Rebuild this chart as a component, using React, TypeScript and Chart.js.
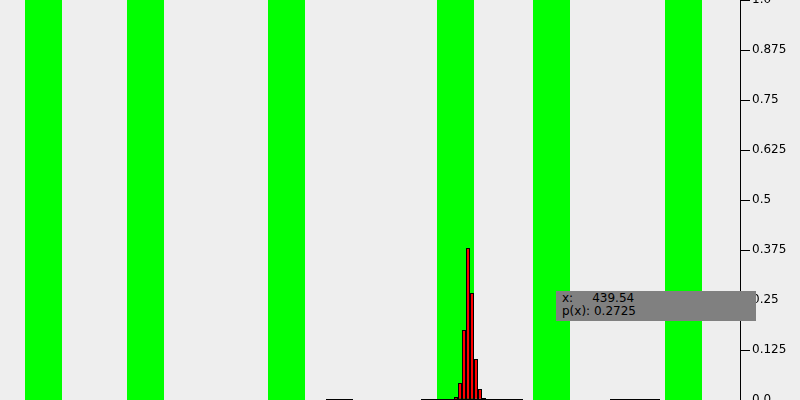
import React, { useEffect, useRef } from "react";
import { Chart, registerables } from "chart.js";

Chart.register(...registerables);

// Histogram bins (centres) and probabilities
const histX = [456, 460, 464, 468, 472, 476, 480, 484];
const histP = [0.0075, 0.0425, 0.175, 0.38, 0.2675, 0.1025, 0.0275, 0.005];

// Green highlight bands (start / end on the x scale)
const bandStarts = [25, 127, 268, 437, 533, 665];
const bandEnds = [62, 164, 305, 474, 570, 702];

// Zero-level line segments (start / end)
const segStarts = [326, 421, 610];
const segEnds = [353, 523, 660];

// Y tick labels
const yTickValues = [0, 0.125, 0.25, 0.375, 0.5, 0.625, 0.75, 0.875, 1];
const yTickLabels = ["0.0", "0.125", "0.25", "0.375", "0.5", "0.625", "0.75", "0.875", "1.0"];

// Readout
const readoutX = "439.54";
const readoutP = "0.2725";

const bandPlugin = {
  id: "bands",
  beforeDraw(chart: any) {
    const { ctx, chartArea, scales } = chart;
    ctx.save();
    ctx.fillStyle = "#eeeeee";
    ctx.fillRect(0, 0, chart.width, chart.height);
    ctx.fillStyle = "#00ff00";
    bandStarts.forEach((s, i) => {
      const x0 = scales.x.getPixelForValue(s);
      const x1 = scales.x.getPixelForValue(bandEnds[i]);
      ctx.fillRect(x0, chartArea.top, x1 - x0, chartArea.bottom - chartArea.top);
    });
    ctx.restore();
  },
};

export default function App() {
  const ref = useRef<HTMLCanvasElement>(null);

  useEffect(() => {
    if (!ref.current) return;
    const lineData: any[] = [];
    segStarts.forEach((s, i) => {
      lineData.push({ x: s, y: 0 });
      lineData.push({ x: segEnds[i], y: 0 });
      lineData.push({ x: (segEnds[i] + (segStarts[i + 1] ?? segEnds[i] + 2)) / 2, y: null });
    });
    const chart = new Chart(ref.current, {
      type: "bar",
      data: {
        datasets: [
          {
            type: "bar",
            data: histX.map((x, i) => ({ x, y: histP[i] })),
            backgroundColor: "#ff0000",
            borderColor: "#000000",
            borderWidth: 1,
            borderSkipped: false,
            inflateAmount: 0,
            barPercentage: 1,
            categoryPercentage: 1,
          } as any,
          {
            type: "line",
            data: lineData,
            borderColor: "#000000",
            borderWidth: 2,
            pointRadius: 0,
            spanGaps: false,
            fill: false,
          } as any,
        ],
      },
      options: {
        animation: false,
        responsive: false,
        devicePixelRatio: 1,
        events: [],
        layout: { padding: 0 },
        plugins: { legend: { display: false }, tooltip: { enabled: false } },
        scales: {
          x: {
            type: "linear",
            display: false,
            offset: false,
            min: 0,
            max: 740,
          },
          y: {
            type: "linear",
            position: "right",
            min: 0,
            max: 1,
            afterFit: (s: any) => {
              s.width = 60;
              s.paddingTop = 0;
              s.paddingBottom = 0;
            },
            afterBuildTicks: (s: any) => {
              s.ticks = yTickValues.map((v) => ({ value: v }));
            },
            ticks: {
              color: "#000000",
              padding: 2,
              font: { family: "DejaVu Sans", size: 12 },
              callback: (v: any) => {
                const i = yTickValues.indexOf(Number(v));
                return i >= 0 ? yTickLabels[i] : "";
              },
            },
            grid: {
              drawOnChartArea: false,
              drawTicks: true,
              tickLength: 10,
              color: "#000000",
              lineWidth: 1,
            },
            border: { display: true, color: "#000000", width: 1 },
          },
        },
      } as any,
      plugins: [bandPlugin],
    });
    return () => chart.destroy();
  }, []);

  return (
    <div style={{ position: "absolute", left: 0, top: 0, width: 800, height: 400, background: "#eeeeee" }}>
      <canvas ref={ref} width={800} height={400} style={{ display: "block", width: 800, height: 400 }} />
      <div
        style={{
          position: "absolute",
          left: 556,
          top: 291,
          width: 200,
          height: 30,
          boxSizing: "border-box",
          padding: "1px 0 0 6px",
          background: "#808080",
          color: "#000000",
          fontFamily: "DejaVu Sans",
          fontSize: 12,
          lineHeight: "13px",
          whiteSpace: "pre",
          overflow: "hidden",
        }}
      >
        <div>{"x:     " + readoutX}</div>
        <div>{"p(x): " + readoutP}</div>
      </div>
    </div>
  );
}
